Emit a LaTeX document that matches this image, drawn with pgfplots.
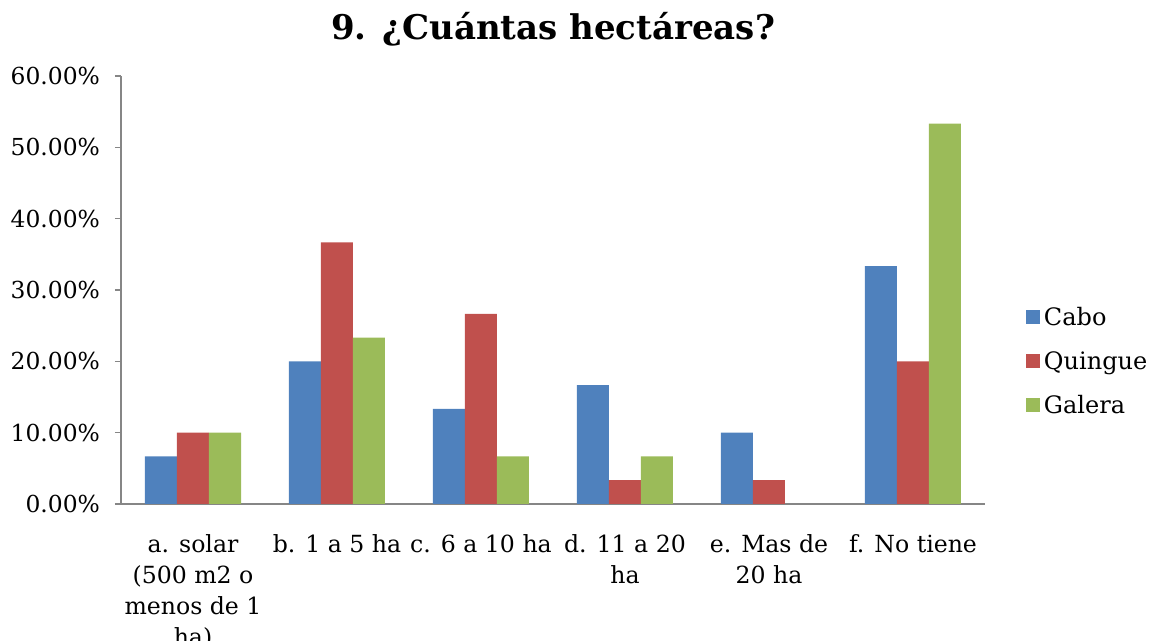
\documentclass[border=0pt]{standalone}
\usepackage{pgfplots}
\pgfplotsset{compat=1.18}
\usepackage{fontspec}
\setmainfont{DejaVu Serif}
\definecolor{cabo}{HTML}{4F81BD}
\definecolor{quin}{HTML}{C0504D}
\definecolor{gal}{HTML}{9BBB59}
\definecolor{axg}{HTML}{868686}
\begin{document}
\begin{tikzpicture}
\useasboundingbox (-60.5pt,-68.5pt) rectangle (515pt,252pt);
\begin{axis}[
  at={(0,0)}, anchor=south west,
  scale only axis, width=432pt, height=214pt,
  ybar=0pt, bar width=16pt,
  xmin=-0.5, xmax=5.5, ymin=0, ymax=60,
  axis x line*=bottom, axis y line*=left,
  axis line style={axg, line width=0.8pt},
  xtick={0,...,5},
  xticklabels={{a. solar\\(500 m2 o\\menos de 1\\ha)},{b. 1 a 5 ha},{c. 6 a 10 ha},{d. 11 a 20\\ha},{e. Mas de\\20 ha},{f. No tiene}},
  x tick label style={align=center, font=\fontsize{11.8pt}{15.5pt}\selectfont, yshift=-9pt},
  major x tick style={draw=none},
  extra x ticks={-0.5,0.5,1.5,2.5,3.5,4.5,5.5},
  extra x tick labels={},
  extra x tick style={tick style={axg, line width=0.8pt}, major tick length=3pt, tick align=outside, grid=none},
  ytick={0,10,...,60},
  yticklabels={0.00\%,10.00\%,20.00\%,30.00\%,40.00\%,50.00\%,60.00\%},
  y tick label style={font=\fontsize{11.7pt}{13pt}\selectfont, xshift=-4pt},
  ytick style={axg, line width=0.8pt},
  tick align=outside, major tick length=3pt,
  legend style={at={(1.047,0.47)}, anchor=north west, draw=none, fill=none,
    font=\fontsize{12pt}{14pt}\selectfont, row sep=7.5pt, inner sep=0pt},
  legend cell align=left,
  legend image code/.code={\fill[#1] (0pt,-3pt) rectangle (7pt,4pt);},
  title={\fontsize{17pt}{20pt}\selectfont\bfseries 9. ¿Cuántas hectáreas?},
  title style={at={(0.5,1)}, anchor=center, yshift=17.5pt},
]
\addplot[fill=cabo, draw=none] coordinates {(0,6.67) (1,20) (2,13.33) (3,16.67) (4,10) (5,33.33)};
\addplot[fill=quin, draw=none] coordinates {(0,10) (1,36.67) (2,26.67) (3,3.33) (4,3.33) (5,20)};
\addplot[fill=gal, draw=none] coordinates {(0,10) (1,23.33) (2,6.67) (3,6.67) (5,53.33)};
\legend{Cabo,Quingue,Galera}
\end{axis}
\end{tikzpicture}
\end{document}
